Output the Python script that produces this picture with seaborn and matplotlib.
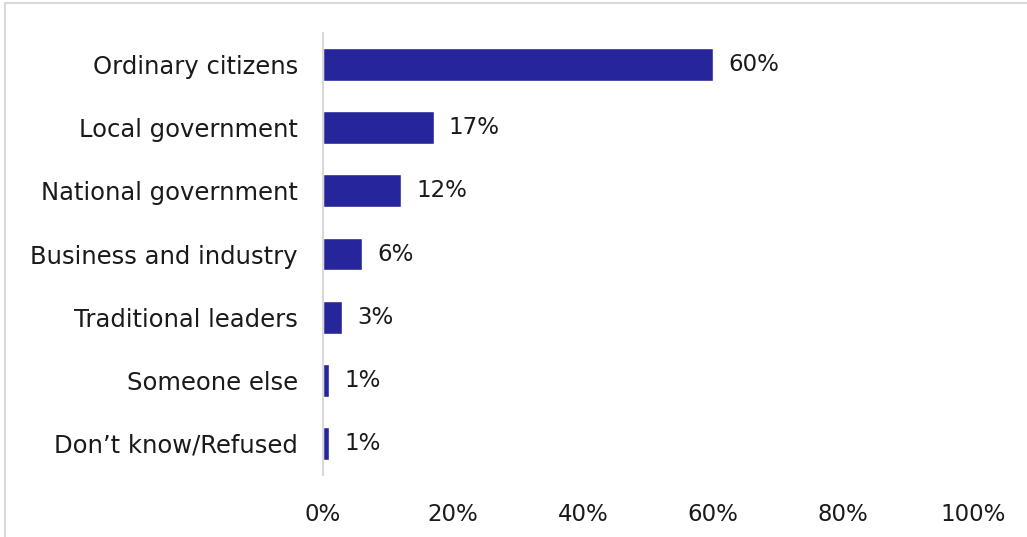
import matplotlib
matplotlib.use("Agg")
import matplotlib.pyplot as plt
from matplotlib.lines import Line2D
import seaborn as sns
import pandas as pd

categories = [
    "Ordinary citizens",
    "Local government",
    "National government",
    "Business and industry",
    "Traditional leaders",
    "Someone else",
    "Don\u2019t know/Refused",
]
shares = [60, 17, 12, 6, 3, 1, 1]
x_ticks = [0, 20, 40, 60, 80, 100]

df = pd.DataFrame({"group": categories, "share": shares})

sns.set_theme(style="white")
plt.rcParams["font.family"] = ["DejaVu Sans"]

fig = plt.figure(figsize=(10.27, 5.37), dpi=100)
ax = fig.add_axes([0.3145, 0.1155, 0.633, 0.823])

sns.barplot(data=df, x="share", y="group", orient="h", color="#26269A",
            saturation=1, width=0.52, ax=ax)

ax.set_xlim(0, 100)
ax.set_xticks(x_ticks)
ax.set_xticklabels([f"{t}%" for t in x_ticks])
ax.set_xlabel("")
ax.set_ylabel("")

for c in ax.containers:
    ax.bar_label(c, labels=[f"{v:.0f}%" for v in c.datavalues],
                 padding=11, fontsize=16.5, color="#1a1a1a")

ax.tick_params(axis="y", length=0, pad=18, labelsize=17.5, labelcolor="#1a1a1a")
ax.tick_params(axis="x", length=0, pad=20, labelsize=16.5, labelcolor="#1a1a1a")

for side in ["top", "right", "bottom"]:
    ax.spines[side].set_visible(False)
ax.spines["left"].set_color("#d9d9d9")
ax.spines["left"].set_linewidth(1.5)

# thin frame along the top and left edges of the figure
fig.add_artist(Line2D([0.0045, 1.0], [0.9935, 0.9935], transform=fig.transFigure,
                      color="#d9d9d9", linewidth=1.5))
fig.add_artist(Line2D([0.0045, 0.0045], [0.0, 0.9935], transform=fig.transFigure,
                      color="#d9d9d9", linewidth=1.5))

fig.savefig("out.png", dpi=100, facecolor="white")
